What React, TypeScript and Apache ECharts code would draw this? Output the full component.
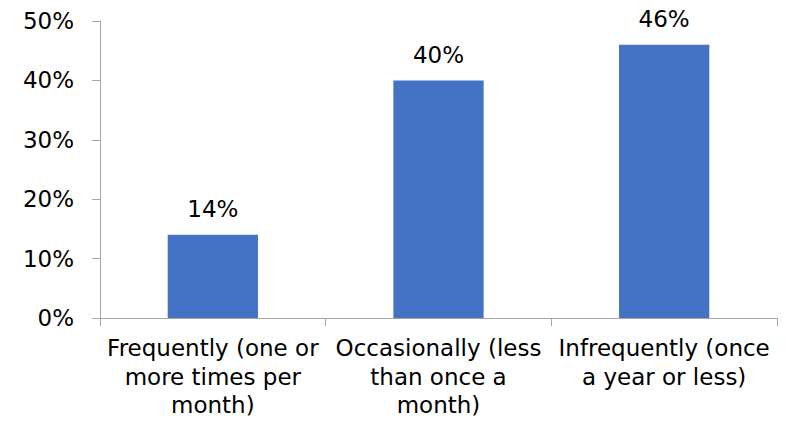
import React, { useEffect, useRef } from "react";
import * as echarts from "echarts";

const categories = [
  "Frequently (one or\nmore times per\nmonth)",
  "Occasionally (less\nthan once a\nmonth)",
  "Infrequently (once\na year or less)",
];
const shares = [14, 40, 46];
const FONT = "DejaVu Sans";
const SIZE = 23;

export default function App() {
  const ref = useRef<HTMLDivElement>(null);
  useEffect(() => {
    if (!ref.current) return;
    const chart = echarts.init(ref.current, undefined, { renderer: "svg" });
    chart.setOption({
      animation: false,
      grid: { left: 100, right: 9, top: 21, bottom: 110, containLabel: false },
      xAxis: {
        type: "category",
        data: categories,
        axisLine: { lineStyle: { color: "#a6a6a6" } },
        axisTick: { show: true, length: 8, lineStyle: { color: "#a6a6a6" } },
        axisLabel: {
          interval: 0,
          color: "#000",
          fontFamily: FONT,
          fontSize: SIZE,
          lineHeight: 28.5,
          margin: 16,
        },
      },
      yAxis: {
        type: "value",
        min: 0,
        max: 50,
        interval: 10,
        axisLine: { show: true, lineStyle: { color: "#a6a6a6" } },
        axisTick: { show: true, length: 8, lineStyle: { color: "#a6a6a6" } },
        splitLine: { show: false },
        axisLabel: {
          formatter: "{value}%",
          color: "#000",
          fontFamily: FONT,
          fontSize: SIZE,
          margin: 26,
        },
      },
      series: [
        {
          type: "bar",
          data: shares,
          barCategoryGap: "60%",
          itemStyle: { color: "#4472c4" },
          label: {
            show: true,
            position: "top",
            distance: 14,
            formatter: "{c}%",
            color: "#000",
            fontFamily: FONT,
            fontSize: SIZE,
          },
        },
      ],
    });
    return () => chart.dispose();
  }, []);
  return (
    <div
      ref={ref}
      style={{ position: "absolute", left: 0, top: 0, width: 786, height: 428 }}
    />
  );
}
